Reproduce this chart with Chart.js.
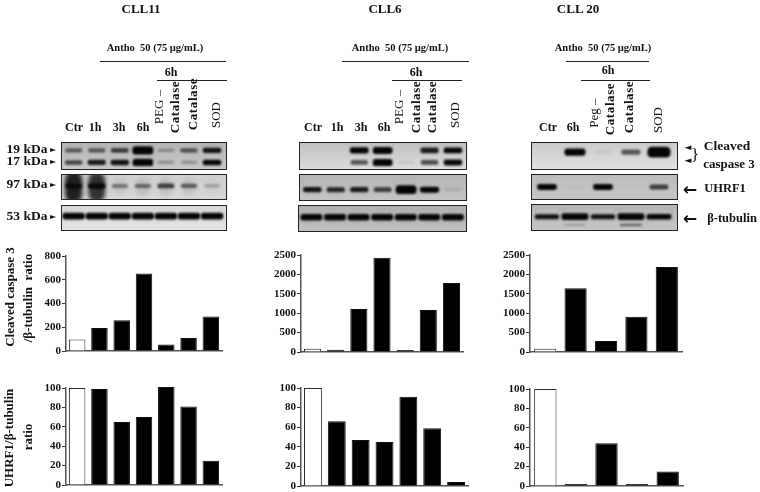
<!DOCTYPE html>
<html>
<head>
<meta charset="utf-8">
<title>CLL blots</title>
<script src="https://cdn.jsdelivr.net/npm/chart.js@4"></script>
<style>
  html, body { margin: 0; padding: 0; background: #fff; }
  #page { position: relative; width: 760px; height: 492px; overflow: hidden; font-family: "Liberation Serif", serif; color: #111; filter: blur(.35px); }
  #page canvas { position: absolute; }
  .t { position: absolute; white-space: pre; font-weight: bold; transform: translate(-50%, -50%); line-height: 1; }
  .rule { position: absolute; height: 1px; background: #222; }
</style>
</head>
<body>
<div id="page"></div>
<script>
// bar values
const cll11Lanes = ["Ctr", "1h", "3h", "6h", "PEG-Catalase", "Catalase", "SOD"];
const cll6Lanes = ["Ctr", "1h", "3h", "6h", "PEG-Catalase", "Catalase", "SOD"];
const cll20Lanes = ["Ctr", "6h", "Peg-Catalase", "Catalase", "SOD"];

const cll11Caspase = [97, 193, 258, 652, 55, 110, 290];
const cll11Uhrf1 = [100, 99, 65, 70, 101, 81, 25];
const cll6Caspase = [85, 60, 1110, 2430, 25, 1085, 1780];
const cll6Uhrf1 = [100, 66, 47, 45, 91, 59, 4];
const cll20Caspase = [85, 1640, 285, 910, 2190];
const cll20Uhrf1 = [100, 2, 44, 1, 15];

const caspaseTicksSmall = [0, 200, 400, 600, 800];
const caspaseTicksLarge = [0, 500, 1000, 1500, 2000, 2500];
const uhrf1Ticks = [0, 20, 40, 60, 80, 100];

// band strength per lane, above 1 means a fatter band
const cll11Band19 = [.5, .5, .65, 1.7, .25, .55, .85];
const cll11Band17 = [.6, .8, .85, 1.4, .25, .25, .9];
const cll11BandUhrf1 = [.75, .85, .4, .45, .65, .5, .22];
const cll11SmearUhrf1 = [.8, .72, .06, .1, .08, .08, .03];
const cll11BandTub = [1.1, 1.1, 1.1, 1.1, 1.1, 1.1, 1.1];
const cll6Band19 = [0, 0, .95, 1.2, 0, .8, .9];
const cll6Band17 = [0, 0, .55, 1.2, .06, .6, .9];
const cll6BandUhrf1 = [.85, .75, .8, .65, 1.9, 1.05, .1];
const cll6BandTub = [1, 1, 1, 1, 1, 1, 1];
const cll20Band19 = [0, 1, .05, .55, 1.9];
const cll20BandUhrf1 = [.95, .02, .95, 0, .65];
const cll20BandTub = [.85, 1.4, .85, 1.4, 1];
const cll20BandTubLow = [0, .2, 0, .45, 0];

const page = document.getElementById("page");
const BAR_LEFT = 40, PAD_TOP = 9, PAD_BOTTOM = 8;

function addText(str, x, y, size, opts = {}) {
  const d = document.createElement("div");
  d.className = "t";
  d.textContent = str;
  d.style.left = x + "px";
  d.style.top = y + "px";
  d.style.fontSize = size + "px";
  if (opts.rot) d.style.transform = "translate(-50%, -50%) rotate(-90deg)";
  if (opts.weight) d.style.fontWeight = opts.weight;
  if (opts.spacing) d.style.letterSpacing = opts.spacing + "px";
  if (opts.font) d.style.fontFamily = opts.font;
  page.appendChild(d);
}

function addRule(x1, x2, y) {
  const d = document.createElement("div");
  d.className = "rule";
  d.style.left = x1 + "px";
  d.style.width = (x2 - x1) + "px";
  d.style.top = y + "px";
  page.appendChild(d);
}

function addCanvas(x, y, w, h) {
  const c = document.createElement("canvas");
  c.width = w;
  c.height = h;
  c.style.left = x + "px";
  c.style.top = y + "px";
  c.style.width = w + "px";
  c.style.height = h + "px";
  page.appendChild(c);
  return c;
}

// axisX/top/bottom/right are the pixel edges of the plot
function barChart(labels, values, ticks, axisX, top, right, bottom, barPct) {
  const canvas = addCanvas(axisX - BAR_LEFT, top - PAD_TOP, right - axisX + BAR_LEFT + 2, bottom - top + PAD_TOP + PAD_BOTTOM);
  new Chart(canvas, {
    type: "bar",
    data: {
      labels: labels,
      datasets: [{
        data: values,
        backgroundColor: values.map((v, i) => i === 0 ? "#fff" : "#000"),
        borderColor: values.map((v, i) => i === 0 ? "#2a2a2a" : "#111"),
        borderWidth: 1,
        barPercentage: barPct,
        categoryPercentage: 1,
        minBarLength: 2,
        clip: false
      }]
    },
    options: {
      responsive: false,
      animation: false,
      devicePixelRatio: 1,
      layout: { padding: { top: PAD_TOP, right: 2, left: 0, bottom: 0 } },
      plugins: { legend: { display: false }, tooltip: { enabled: false } },
      scales: {
        x: {
          grid: { display: false },
          border: { color: "#555", width: 1.5 },
          ticks: { display: false },
          afterFit: s => { s.height = PAD_BOTTOM; }
        },
        y: {
          min: 0,
          max: ticks[ticks.length - 1],
          afterBuildTicks: s => { s.ticks = ticks.map(v => ({ value: v })); },
          afterFit: s => { s.width = BAR_LEFT; },
          border: { color: "#555", width: 1.5 },
          grid: { drawOnChartArea: false, tickLength: 4, tickColor: "#333" },
          ticks: {
            color: "#111",
            padding: 1,
            callback: v => String(v),
            font: { family: "Liberation Serif", size: 11, weight: "bold" }
          }
        }
      }
    }
  });
}

// blot strip, bands sit on the lane scale and get smudged by the plugin below
const bandPlugin = {
  id: "bands",
  beforeDatasetsDraw(chart, args, o) {
    const { ctx, chartArea: a } = chart;
    ctx.save();
    const g = ctx.createLinearGradient(0, a.top, 0, a.bottom);
    g.addColorStop(0, o.bg[0]);
    g.addColorStop(1, o.bg[1]);
    ctx.fillStyle = g;
    ctx.fillRect(a.left, a.top, a.width, a.height);
    ctx.restore();
  },
  afterDatasetsDraw(chart, args, o) {
    const { ctx, chartArea: a } = chart;
    ctx.save();
    ctx.beginPath();
    ctx.rect(a.left, a.top, a.width, a.height);
    ctx.clip();
    chart.data.datasets.forEach((ds, di) => {
      chart.getDatasetMeta(di).data.forEach((el, i) => {
        const s = ds.strength[i];
        if (s <= 0) return;
        const hw = o.bandW * Math.min(1.1, 0.8 + s * 0.2);
        const hh = ds.h * (0.45 + s * 0.6);
        ctx.filter = "blur(" + (ds.blur || 1) + "px)";
        ctx.globalAlpha = Math.min(1, s * 1.1);
        ctx.fillStyle = "#050505";
        ctx.beginPath();
        ctx.roundRect(el.x - hw, el.y - hh, hw * 2, hh * 2, hh * 0.8);
        ctx.fill();
      });
    });
    ctx.filter = "none";
    ctx.globalAlpha = 1;
    ctx.strokeStyle = "#222";
    ctx.lineWidth = 1;
    ctx.strokeRect(a.left + .5, a.top + .5, a.width - 1, a.height - 1);
    ctx.restore();
  }
};

function blot(x1, x2, y1, y2, laneMin, laneMax, bandW, bg, rows) {
  const canvas = addCanvas(x1, y1, x2 - x1, y2 - y1);
  new Chart(canvas, {
    type: "scatter",
    data: {
      datasets: rows.map(r => ({
        data: r.strength.map((s, i) => ({ x: i, y: r.y })),
        strength: r.strength,
        h: r.h,
        blur: r.blur,
        pointRadius: 0
      }))
    },
    plugins: [bandPlugin],
    options: {
      responsive: false,
      animation: false,
      devicePixelRatio: 1,
      layout: { padding: 0 },
      plugins: { legend: { display: false }, tooltip: { enabled: false }, bands: { bandW: bandW, bg: bg } },
      scales: {
        x: { display: false, min: laneMin, max: laneMax },
        y: { display: false, min: 0, max: 1, reverse: true }
      }
    }
  });
}

// CLL11
blot(61, 227, 142, 170, -.55, 6.65, 9.5, ["#b4b4b4", "#c8c8c8"], [
  { strength: cll11Band19, y: .3, h: 2.8 },
  { strength: cll11Band17, y: .73, h: 2.8 }
]);
blot(61, 227, 174, 200, -.55, 6.65, 9, ["#cecece", "#d8d8d8"], [
  { strength: cll11SmearUhrf1, y: .5, h: 17, blur: 2 },
  { strength: cll11BandUhrf1, y: .46, h: 2.8 }
]);
blot(61, 227, 205, 231, -.55, 6.65, 11, ["#d8d8d8", "#e4e4e4"], [
  { strength: cll11BandTub, y: .43, h: 3.1 }
]);

// CLL6
blot(299, 467, 142, 170, -.57, 6.6, 9.5, ["#c0c0c0", "#dcdcdc"], [
  { strength: cll6Band19, y: .3, h: 3 },
  { strength: cll6Band17, y: .73, h: 3 }
]);
blot(299, 467, 174, 201, -.57, 6.6, 9.5, ["#b4b4b4", "#c4c4c4"], [
  { strength: cll6BandUhrf1, y: .58, h: 2.8 }
]);
blot(298, 467, 205, 232, -.57, 6.6, 11, ["#b0b0b0", "#c0c0c0"], [
  { strength: cll6BandTub, y: .45, h: 3.1 }
]);

// CLL 20
blot(531, 678, 142, 170, -.57, 4.68, 10.5, ["#cacaca", "#e2e2e2"], [
  { strength: cll20Band19, y: .36, h: 3.4 }
]);
blot(531, 678, 174, 200, -.57, 4.68, 10, ["#bcbcbc", "#c6c6c6"], [
  { strength: cll20BandUhrf1, y: .5, h: 3 }
]);
blot(531, 678, 204, 231, -.57, 4.68, 12.5, ["#b4b4b4", "#c6c6c6"], [
  { strength: cll20BandTub, y: .47, h: 2.6 },
  { strength: cll20BandTubLow, y: .78, h: 1.8 }
]);

// bar panels
barChart(cll11Lanes, cll11Caspase, caspaseTicksSmall, 66, 256, 222, 351, .74);
barChart(cll11Lanes, cll11Uhrf1, uhrf1Ticks, 66, 388, 222, 485, .74);
barChart(cll6Lanes, cll6Caspase, caspaseTicksLarge, 301, 255, 463, 352, .74);
barChart(cll6Lanes, cll6Uhrf1, uhrf1Ticks, 301, 388, 468, 486, .75);
barChart(cll20Lanes, cll20Caspase, caspaseTicksLarge, 530, 255, 682, 352, .73);
barChart(cll20Lanes, cll20Uhrf1, uhrf1Ticks, 530, 389, 683, 486, .73);

// titles and lane headers
addText("CLL11", 141, 8, 13);
addText("CLL6", 385, 8, 13);
addText("CLL 20", 578, 8, 13);

addText("Antho  50 (75 µg/mL)", 155, 48, 10.5);
addText("Antho  50 (75 µg/mL)", 400, 48, 10.5);
addText("Antho  50 (75 µg/mL)", 603, 48, 10.5);
addRule(100, 226, 61);
addRule(342, 469, 61);
addRule(566, 649, 61);
addText("6h", 171, 72, 12);
addText("6h", 416, 72, 12);
addText("6h", 608, 70, 12);
addRule(157, 227, 80);
addRule(392, 462, 80);
addRule(581, 650, 80);

[["Ctr", 74], ["1h", 95], ["3h", 119], ["6h", 143]].forEach(l => addText(l[0], l[1], 127, 12));
[["Ctr", 313], ["1h", 337], ["3h", 361], ["6h", 384]].forEach(l => addText(l[0], l[1], 127, 12));
[["Ctr", 548], ["6h", 573]].forEach(l => addText(l[0], l[1], 127, 12));

const REG = { rot: true, weight: "normal" };
const ROT = { rot: true, spacing: .6 };
addText("PEG –", 158, 107, 13, REG);
addText("Catalase", 174, 107, 13, ROT);
addText("Catalase", 192, 104, 13, ROT);
addText("SOD", 215, 115, 13, REG);
addText("PEG –", 398, 107, 13, REG);
addText("Catalase", 415, 107, 13, ROT);
addText("Catalase", 431, 107, 13, ROT);
addText("SOD", 454, 115, 13, REG);
addText("Peg –", 593, 113, 13, REG);
addText("Catalase", 609, 109, 13, ROT);
addText("Catalase", 628, 107, 13, ROT);
addText("SOD", 657, 120, 13, REG);

// size markers
const ARROW = "DejaVu Sans";
[["19 kDa", 149], ["17 kDa", 161], ["97 kDa", 184], ["53 kDa", 216]].forEach(m => {
  addText(m[0], 27, m[1], 13.5);
  addText("►", 53, m[1] + 1, 8, { font: ARROW });
});

// right side labels
addText("Cleaved", 727, 146, 13.5);
addText("caspase 3", 729, 163, 13);
addText("UHRF1", 725, 188, 12.5);
addText("β-tubulin", 732, 218, 12.5);
addText("◄", 688, 147, 9, { font: ARROW });
addText("◄", 688, 160, 9, { font: ARROW });
addText("}", 695, 154, 17, { weight: "normal" });
addText("←", 690, 189, 17, { font: ARROW });
addText("←", 690, 218, 17, { font: ARROW });

// y axis captions
addText("Cleaved caspase 3", 9, 297, 13, { rot: true });
addText("/β-tubulin  ratio", 27, 298, 13, { rot: true });
addText("UHRF1/β-tubulin", 8, 438, 13, { rot: true });
addText("ratio", 27, 437, 13, { rot: true });
</script>
</body>
</html>
